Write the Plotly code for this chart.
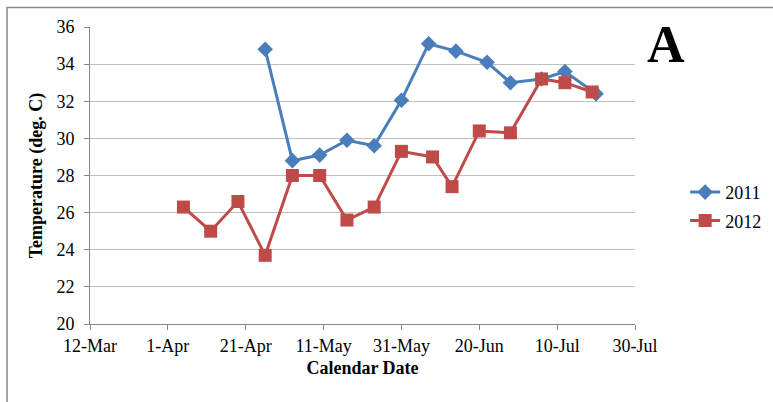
import plotly.graph_objects as go

# Sampling dates and mean temperatures (deg. C) for each season
dates_2011 = ["2012-04-26", "2012-05-03", "2012-05-10", "2012-05-17", "2012-05-24",
              "2012-05-31", "2012-06-07", "2012-06-14", "2012-06-22", "2012-06-28",
              "2012-07-06", "2012-07-12", "2012-07-20"]
temps_2011 = [34.8, 28.8, 29.1, 29.9, 29.6, 32.05, 35.1, 34.7, 34.1, 33.0, 33.2, 33.6, 32.4]

dates_2012 = ["2012-04-05", "2012-04-12", "2012-04-19", "2012-04-26", "2012-05-03",
              "2012-05-10", "2012-05-17", "2012-05-24", "2012-05-31", "2012-06-08",
              "2012-06-13", "2012-06-20", "2012-06-28", "2012-07-06", "2012-07-12",
              "2012-07-19"]
temps_2012 = [26.3, 25.0, 26.6, 23.7, 28.0, 28.0, 25.6, 26.3, 29.3, 29.0,
              27.4, 30.4, 30.3, 33.2, 33.0, 32.5]

BLUE = "#4a7ebb"
RED = "#be4b48"
FONT = "Liberation Serif, Times New Roman, serif"

fig = go.Figure()
fig.add_trace(go.Scatter(
    x=dates_2011, y=temps_2011, name="2011", mode="lines+markers",
    legendgroup="a",
    line=dict(color=BLUE, width=3),
    marker=dict(symbol="diamond", size=12, color=BLUE),
))
fig.add_trace(go.Scatter(
    x=dates_2012, y=temps_2012, name="2012", mode="lines+markers",
    legendgroup="b",
    line=dict(color=RED, width=3),
    marker=dict(symbol="square", size=13, color=RED),
))

fig.update_layout(
    width=773, height=402,
    margin=dict(l=90, r=138, t=27, b=78, autoexpand=False),
    paper_bgcolor="white", plot_bgcolor="white",
    font=dict(family=FONT, size=18, color="#000000"),
    showlegend=True,
    legend=dict(x=1.092, y=0.396, xanchor="left", yanchor="middle",
                font=dict(family=FONT, size=18), bgcolor="rgba(0,0,0,0)",
                traceorder="grouped", tracegroupgap=2, itemwidth=30),
    xaxis=dict(
        type="date",
        range=["2012-03-12", "2012-07-30"],
        tick0="2012-03-12", dtick=20 * 86400000,
        tickformat="%-d-%b",
        showgrid=False, zeroline=False,
        showline=True, linecolor="#868686", linewidth=1,
        ticks="outside", ticklen=5, tickcolor="#868686",
        tickfont=dict(family=FONT, size=18),
        title=dict(text="<b>Calendar Date</b>", font=dict(family=FONT, size=18), standoff=6),
    ),
    yaxis=dict(
        range=[20, 36], dtick=2,
        showgrid=True, gridcolor="#bfbfbf", gridwidth=1,
        zeroline=False,
        showline=True, linecolor="#868686", linewidth=1,
        ticks="outside", ticklen=5, tickcolor="#868686",
        ticklabelstandoff=6,
        tickfont=dict(family=FONT, size=18),
        title=dict(text="<b>Temperature (deg. C)</b>", font=dict(family=FONT, size=18), standoff=9),
    ),
    shapes=[dict(type="rect", xref="paper", yref="paper",
                 x0=-0.1523, x1=1.6, y0=-0.6, y1=1.066,
                 line=dict(color="#868686", width=1.5), fillcolor="rgba(0,0,0,0)", layer="below")],
    annotations=[dict(text="<b>A</b>", xref="paper", yref="paper",
                      x=(666 - 90) / 545, y=(323.7 - 44) / 297,
                      xanchor="center", yanchor="middle", showarrow=False,
                      font=dict(family=FONT, size=52, color="#000000"))],
)

fig.write_html("out.html")
